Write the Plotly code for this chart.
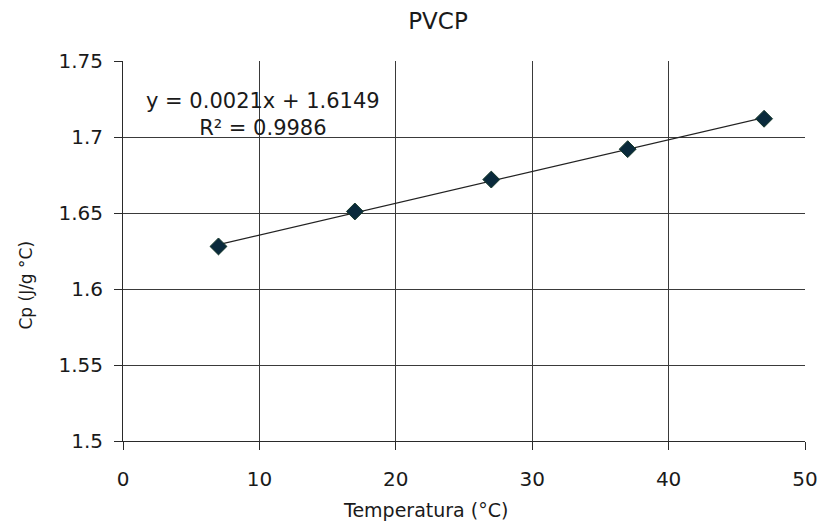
import numpy as np
import plotly.graph_objects as go

temperature = [7, 17, 27, 37, 47]
cp = [1.628, 1.651, 1.672, 1.692, 1.712]
x_ticks = [0, 10, 20, 30, 40, 50]
y_ticks = [1.5, 1.55, 1.6, 1.65, 1.7, 1.75]
y_tick_text = ["1.5", "1.55", "1.6", "1.65", "1.7", "1.75"]

slope, intercept = np.polyfit(temperature, cp, 1)
fit_x = [min(temperature), max(temperature)]
fit_y = [slope * v + intercept for v in fit_x]

FONT = "DejaVu Sans"
TXT = "#1a1a1a"

# plot area in pixels
L, R, T, B = 123, 809, 61, 441
W, H = R - L, B - T


def px(xp):
    return (xp - L) / W


def py(yp):
    return (B - yp) / H


fig = go.Figure()
fig.add_trace(go.Scatter(x=fit_x, y=fit_y, mode="lines",
                         line=dict(color="#222222", width=1.2), showlegend=False,
                         hoverinfo="skip"))
fig.add_trace(go.Scatter(x=temperature, y=cp, mode="markers",
                         marker=dict(symbol="diamond", size=13, color="#0a2a3c",
                                     line=dict(color="#183a2c", width=1)),
                         showlegend=False))

fig.add_annotation(x=px(264), y=py(114.5), xref="paper", yref="paper",
                   xanchor="center", yanchor="middle",
                   text="y = 0.0021x + 1.6149<br>R² = 0.9986",
                   showarrow=False, font=dict(family=FONT, size=21, color=TXT))
fig.add_annotation(x=px(427.5), y=py(510), xref="paper", yref="paper",
                   xanchor="center", yanchor="middle",
                   text="Temperatura (°C)", showarrow=False,
                   font=dict(family=FONT, size=19, color=TXT))
fig.add_annotation(x=px(25), y=py(285), xref="paper", yref="paper",
                   xanchor="center", yanchor="middle",
                   text="Cp (J/g °C)", showarrow=False, textangle=-90,
                   font=dict(family=FONT, size=17, color=TXT))

fig.update_layout(
    width=830, height=529,
    margin=dict(l=L, r=830 - R, t=T, b=529 - B),
    paper_bgcolor="white", plot_bgcolor="white",
    title=dict(text="PVCP", x=438 / 830, xanchor="center", y=1 - 21 / 529, yanchor="middle",
               font=dict(family=FONT, size=23, color=TXT)),
    font=dict(family=FONT, color=TXT),
)
fig.update_xaxes(range=[0, 50], tickvals=x_ticks, showgrid=True, gridcolor="#3a3a3a", gridwidth=1,
                 showline=True, linecolor="#2a2a2a", linewidth=1, mirror=False,
                 ticks="outside", ticklen=8, tickcolor="#2a2a2a",
                 ticklabelstandoff=12,
                 tickfont=dict(family=FONT, size=20, color=TXT),
                 zeroline=False)
fig.update_yaxes(range=[1.5, 1.75], tickvals=y_ticks, ticktext=y_tick_text, showgrid=True,
                 gridcolor="#3a3a3a", gridwidth=1,
                 showline=True, linecolor="#2a2a2a", linewidth=1, mirror=False,
                 ticks="outside", ticklen=8, tickcolor="#2a2a2a",
                 ticklabelstandoff=7,
                 tickfont=dict(family=FONT, size=20, color=TXT),
                 zeroline=False)

fig.write_html("out.html", config={"displayModeBar": False},
               post_script="document.body.style.margin='0';")
